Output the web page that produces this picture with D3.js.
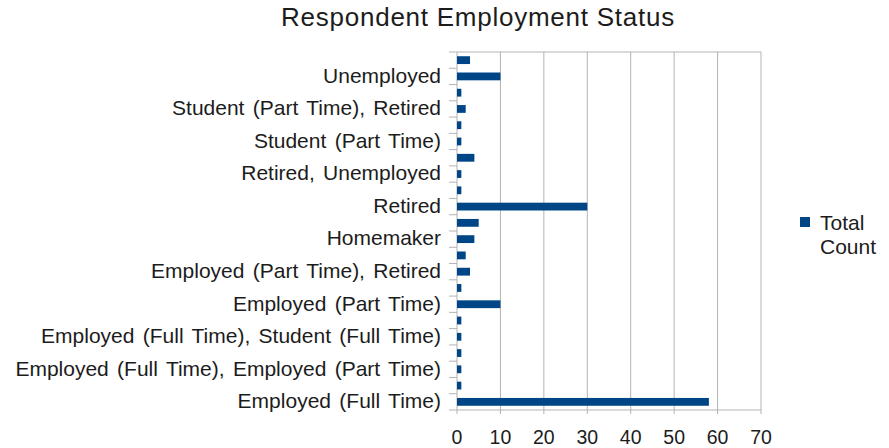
<!DOCTYPE html>
<html>
<head>
<meta charset="utf-8">
<script src="https://cdn.jsdelivr.net/npm/d3@7"></script>
<style>
  html, body { margin: 0; padding: 0; background: #fff; }
  svg { display: block; font-family: "Liberation Sans", Arial, sans-serif; }
</style>
</head>
<body>
<svg id="chart" width="889" height="448"></svg>
<script>
// Employment status categories, listed bottom to top
const categories = [
  "Employed (Full Time)",
  "Employed (Full Time), Disabled",
  "Employed (Full Time), Employed (Part Time)",
  "Employed (Full Time), Retired",
  "Employed (Full Time), Student (Full Time)",
  "Employed (Full Time), Student (Part Time)",
  "Employed (Part Time)",
  "Employed (Part Time), Homemaker",
  "Employed (Part Time), Retired",
  "Employed (Part Time), Student (Part Time)",
  "Homemaker",
  "Homemaker, Student (Part Time)",
  "Retired",
  "Retired, Homemaker",
  "Retired, Unemployed",
  "Student (Full Time)",
  "Student (Part Time)",
  "Student (Part Time), Employed (Part Time)",
  "Student (Part Time), Retired",
  "Student (Part Time), Unemployed",
  "Unemployed",
  "Unemployed, Student (Part Time)"
];

// Respondent counts per category
const totalCount = [58, 1, 1, 1, 1, 1, 10, 1, 3, 2, 4, 5, 30, 1, 1, 4, 1, 1, 2, 1, 10, 3];

const xTicks = [0, 10, 20, 30, 40, 50, 60, 70];
const seriesName = ["Total", "Count"];
const chartTitle = "Respondent Employment Status";

const svg = d3.select("#chart");
const plot = { left: 457, right: 761, top: 52, bottom: 410 };
const barColor = "#004586";
const gridColor = "#b3b3b3";
const textColor = "#1c1c1c";

const x = d3.scaleLinear().domain([0, 70]).range([plot.left, plot.right]);
const y = d3.scaleBand().domain(categories).range([plot.bottom, plot.top]).paddingInner(0.52).paddingOuter(0.26);
const yBounds = d3.scaleLinear().domain([0, categories.length]).range([plot.bottom, plot.top]);

// Title
svg.append("text")
  .attr("x", 478).attr("y", 26)
  .attr("text-anchor", "middle")
  .attr("font-size", 26)
  .attr("letter-spacing", 0.75)
  .attr("fill", textColor)
  .text(chartTitle);

// Vertical gridlines
svg.append("g")
  .selectAll("line")
  .data(xTicks)
  .join("line")
  .attr("x1", d => x(d)).attr("x2", d => x(d))
  .attr("y1", plot.top).attr("y2", plot.bottom + 4)
  .attr("stroke", gridColor).attr("stroke-width", 1);

// Top and bottom frame lines
svg.append("line")
  .attr("x1", plot.left).attr("x2", plot.right)
  .attr("y1", plot.top).attr("y2", plot.top)
  .attr("stroke", gridColor);
svg.append("line")
  .attr("x1", plot.left).attr("x2", plot.right)
  .attr("y1", plot.bottom).attr("y2", plot.bottom)
  .attr("stroke", gridColor);

// Category boundary ticks on the left
svg.append("g")
  .selectAll("line")
  .data(d3.range(categories.length + 1))
  .join("line")
  .attr("x1", plot.left - 8).attr("x2", plot.left)
  .attr("y1", d => yBounds(d)).attr("y2", d => yBounds(d))
  .attr("stroke", gridColor);

// Bars
svg.append("g")
  .selectAll("rect")
  .data(categories.map((c, i) => ({ c, v: totalCount[i] })))
  .join("rect")
  .attr("x", x(0))
  .attr("y", d => y(d.c))
  .attr("width", d => x(d.v) - x(0))
  .attr("height", y.bandwidth())
  .attr("fill", barColor);

// Category labels (every other category)
svg.append("g")
  .selectAll("text")
  .data(categories.filter((c, i) => i % 2 === 0))
  .join("text")
  .attr("x", 441)
  .attr("y", d => y(d) + y.bandwidth() / 2)
  .attr("dy", "0.3em")
  .attr("text-anchor", "end")
  .attr("font-size", 21)
  .attr("word-spacing", 2.5)
  .attr("fill", textColor)
  .text(d => d);

// Value axis labels
svg.append("g")
  .selectAll("text")
  .data(xTicks)
  .join("text")
  .attr("x", d => x(d))
  .attr("y", 444)
  .attr("text-anchor", "middle")
  .attr("font-size", 19.5)
  .attr("fill", textColor)
  .text(d => d);

// Legend
const legend = svg.append("g");
legend.append("rect")
  .attr("x", 800).attr("y", 217).attr("width", 10).attr("height", 10)
  .attr("fill", barColor);
legend.append("text")
  .attr("x", 820).attr("y", 230)
  .attr("font-size", 21)
  .attr("fill", textColor)
  .selectAll("tspan")
  .data(seriesName)
  .join("tspan")
  .attr("x", 820)
  .attr("dy", (d, i) => i === 0 ? 0 : 24)
  .text(d => d);
</script>
</body>
</html>
